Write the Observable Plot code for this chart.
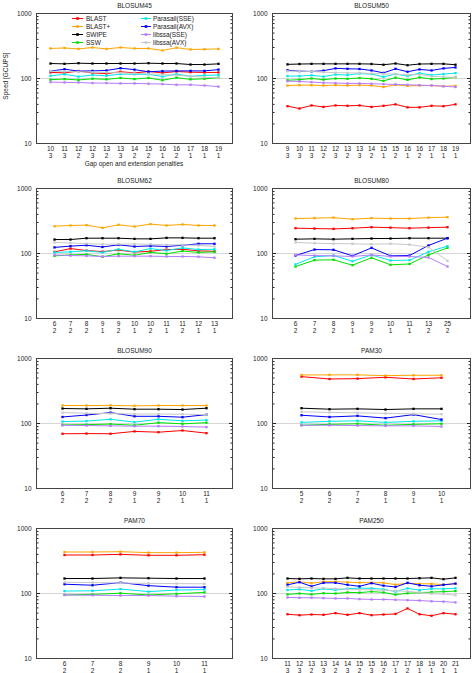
<!DOCTYPE html>
<html><head><meta charset="utf-8">
<script src="https://cdn.jsdelivr.net/npm/d3@7"></script>
<script src="https://cdn.jsdelivr.net/npm/@observablehq/plot@0.6"></script>
<style>
body{margin:0;background:#fff;}
#chart{position:relative;width:472px;height:673px;font-family:"Liberation Sans",Arial,sans-serif;background:#fff;}
#chart svg{position:absolute;overflow:visible;}
</style></head><body><div id="chart"></div>
<script>
const series = ["BLAST","BLAST+","SWIPE","SSW","Parasail(SSE)","Parasail(AVX)","libssa(SSE)","libssa(AVX)"];
const colors = ["#ff0000","#ffa500","#000000","#00e000","#00e8e8","#0000ff","#b57cff","#c8c8c8"];
const titles = ["BLOSUM45","BLOSUM50","BLOSUM62","BLOSUM80","BLOSUM90","PAM30","PAM70","PAM250"];
const yTicks = [10,100,1000];
const yMinor = [20,30,40,50,60,70,80,90,200,300,400,500,600,700,800,900];

// values in series order: BLAST, BLAST+, SWIPE, SSW, Parasail(SSE), Parasail(AVX), libssa(SSE), libssa(AVX)
const blosum45Gaps = ["10\n3","11\n3","12\n2","12\n3","13\n2","13\n3","14\n2","15\n2","16\n1","16\n2","17\n1","18\n1","19\n1"];
const blosum45 = [
  [124,122,130,122,119,127,122,128,122,128,125,124,124],
  [290,295,285,300,285,300,290,290,270,298,280,282,285],
  [170,168,172,170,170,170,170,172,170,170,164,164,168],
  [96,98,95,99,97,102,98,102,94,103,97,99,103],
  [110,116,107,113,110,117,116,116,107,117,108,112,113],
  [130,139,130,131,133,144,137,127,130,131,131,131,137],
  [88,87,87,85,85,84,84,83,82,80,80,78,75],
  [130,128,127,125,124,122,120,118,115,112,108,105,102]
];
const blosum50Gaps = ["9\n3","10\n3","11\n3","12\n2","12\n3","13\n2","13\n3","14\n2","15\n1","15\n2","16\n1","16\n2","17\n1","18\n1","19\n1"];
const blosum50 = [
  [37.5,34.5,38.5,36.5,38.5,38,38.5,36.5,38,40,36,36,38,37.5,40],
  [78,79,79,78,79,78,79,78,74,80,77,78,78,76,77],
  [165,167,168,168,168,168,168,167,163,170,160,167,168,168,163],
  [94,96,100,96,100,99,102,99,92,103,95,104,98,100,104],
  [109,109,112,107,115,113,119,117,106,117,109,121,113,117,121],
  [134,130,128,132,143,141,140,133,122,141,127,138,133,143,148],
  [91,90,88,86,85,84,84,83,82,81,80,79,78,76,74],
  [130,130,128,125,123,122,122,119,118,117,114,115,108,106,104]
];
const blosum62Gaps = ["6\n2","7\n2","8\n2","9\n1","9\n2","10\n1","10\n2","11\n1","11\n2","12\n1","13\n1"];
const blosum62 = [
  [106,119,111,107,113,105,108,115,116,110,108],
  [263,270,273,248,276,260,283,270,280,270,270],
  [164,164,172,172,172,168,168,174,174,172,172],
  [92,95,97,89,99,94,104,99,109,104,106],
  [104,106,110,104,116,106,119,111,122,115,116],
  [124,130,134,126,136,128,131,128,134,141,141],
  [95,93,92,90,91,91,91,90,90,89,86],
  [148,145,142,139,140,140,139,136,136,133,128]
];
const blosum80Gaps = ["6\n2","7\n2","8\n2","9\n1","9\n2","10\n1","11\n1","13\n2","25\n2"];
const blosum80 = [
  [245,242,239,245,254,250,245,250,254],
  [345,350,356,337,350,345,345,356,362],
  [166,168,166,168,170,170,172,172,172],
  [63,79,80,66,86,67,69,95,122],
  [68,89,93,76,95,78,79,106,130],
  [93,115,114,92,122,92,93,133,172],
  [95,93,92,90,95,90,90,87,63],
  [148,144,142,141,139,141,137,125,77]
];
const blosum90Gaps = ["6\n2","7\n2","8\n2","9\n1","9\n2","10\n1","11\n1"];
const blosum90 = [
  [69.5,70,69.5,75.6,73.5,78,71],
  [189,189,190,187,189,189,189],
  [170,168,172,166,166,164,172],
  [95,96,98,94,103,99,103],
  [107,109,116,105,116,110,113],
  [126,135,147,129,129,125,137],
  [94,93,92,91,91,90,88],
  [147,144,142,140,140,139,137]
];
const pam30Gaps = ["5\n2","6\n2","7\n2","8\n1","9\n1","10\n1"];
const pam30 = [
  [526,484,490,514,484,505],
  [558,560,560,545,552,552],
  [172,166,168,164,168,168],
  [94,97,99,94,97,99],
  [104,108,110,104,108,110],
  [134,126,131,121,137,115],
  [94,94,93,92,92,90],
  [151,148,146,143,141,139]
];
const pam70Gaps = ["6\n2","7\n2","8\n2","9\n1","10\n1","11\n1"];
const pam70 = [
  [391,391,400,387,387,395],
  [435,435,440,425,425,430],
  [170,170,174,172,170,170],
  [95,97,101,95,99,104],
  [109,110,117,107,113,115],
  [139,134,147,132,125,125],
  [95,94,93,93,91,90],
  [149,147,145,143,142,141]
];
const pam250Gaps = ["11\n3","12\n3","13\n2","13\n3","14\n2","14\n3","15\n2","15\n3","16\n2","17\n1","17\n2","18\n1","19\n1","20\n1","21\n1"];
const pam250 = [
  [48,46.4,47.5,47,49.9,47,49.9,46.4,47.5,48.5,58.9,48,45.5,49.9,48],
  [146,151,144,152,152,149,147,147,146,137,144,141,141,137,141],
  [170,168,170,168,168,174,170,170,170,170,170,172,174,166,174],
  [97,100,97,101,100,104,103,107,104,96,101,103,105,107,109],
  [113,116,110,118,113,119,121,120,116,107,120,113,118,118,120],
  [136,149,129,146,146,136,129,144,132,126,146,134,129,136,142],
  [87,86,86,85,84,84,82,81,81,80,79,78,76,75,73],
  [127,124,122,121,119,116,115,114,112,110,108,104,99,98,94]
];

const gapsList = [blosum45Gaps,blosum50Gaps,blosum62Gaps,blosum80Gaps,blosum90Gaps,pam30Gaps,pam70Gaps,pam250Gaps];
const valuesList = [blosum45,blosum50,blosum62,blosum80,blosum90,pam30,pam70,pam250];

const chart = document.getElementById("chart");
const frameTops = [13.3, 188.3, 358.3, 528.3];
const MT = 15, FH = 130, MB = 28;
const FONT = "Liberation Sans, Arial, sans-serif";

titles.forEach((title, k) => {
  const col = k % 2, row = Math.floor(k / 2);
  const gaps = gapsList[k], vals = valuesList[k];
  const n = gaps.length;
  const seriesMarks = series.flatMap((s, si) => {
    const d = vals[si].map((v, i) => ({i, v}));
    return [
      Plot.line(d, {x: "i", y: "v", stroke: colors[si], strokeWidth: 1}),
      Plot.dot(d, {x: "i", y: "v", fill: colors[si], r: 1.3, symbol: "square"})
    ];
  });
  const svg = Plot.plot({
    width: 236, height: MT + FH + MB,
    marginLeft: 36, marginRight: col ? 2 : 4, marginTop: MT, marginBottom: MB,
    style: {fontFamily: FONT, fontSize: "6.5px", overflow: "visible", background: "transparent", color: "#222"},
    x: {type: "point", domain: d3.range(n), padding: 1, axis: null},
    y: {type: "log", domain: [10, 1000], axis: null},
    marks: [
      Plot.ruleY([100], {stroke: "#d6d6d6", strokeWidth: 1}),
      Plot.axisY({ticks: yTicks, anchor: "left", tickSize: 0, tickPadding: 5, tickFormat: d => String(d), label: null}),
      Plot.axisY({ticks: yMinor, anchor: "left", tickSize: -2.5, tickFormat: () => "", label: null}),
      Plot.axisY({ticks: yMinor, anchor: "right", tickSize: -2.5, tickFormat: () => "", label: null}),
      Plot.axisY({ticks: yTicks, anchor: "left", tickSize: -4, tickFormat: () => "", label: null}),
      Plot.axisY({ticks: yTicks, anchor: "right", tickSize: -4, tickFormat: () => "", label: null}),
      Plot.axisX({anchor: "bottom", tickSize: 0, tickPadding: 2, tickFormat: i => gaps[i], lineHeight: 1.1, label: null}),
      ...seriesMarks,
      Plot.frame({stroke: "#444", strokeWidth: 1}),
      Plot.text([title], {frameAnchor: "top", dy: -10, fontSize: 6.5})
    ]
  });
  svg.style.left = (col * 236) + "px";
  svg.style.top = (frameTops[row] - MT) + "px";
  chart.appendChild(svg);
});

// overlay: axis labels and legend
const ov = d3.select(chart).append("svg")
  .attr("width", 472).attr("height", 673)
  .style("left", "0px").style("top", "0px")
  .attr("font-family", FONT).attr("font-size", 6.5).attr("fill", "#222");
ov.append("text").attr("transform", "translate(5,76) rotate(-90)")
  .attr("text-anchor", "middle").attr("dominant-baseline", "central").text("Speed [GCUPS]");
ov.append("text").attr("x", 134).attr("y", 163)
  .attr("text-anchor", "middle").attr("dominant-baseline", "central").text("Gap open and extension penalties");

const legRows = [18.5, 26.5, 34.5, 42.5];
series.forEach((s, si) => {
  const c = Math.floor(si / 4), r = si % 4;
  const x0 = c ? 141 : 72, x1 = c ? 151 : 83, tx = c ? 153 : 86;
  const y = legRows[r];
  const g = ov.append("g");
  g.append("line").attr("x1", x0).attr("x2", x1).attr("y1", y).attr("y2", y)
    .attr("stroke", colors[si]).attr("stroke-width", 1);
  g.append("rect").attr("x", (x0 + x1) / 2 - 1.3).attr("y", y - 1.3).attr("width", 2.6).attr("height", 2.6)
    .attr("fill", colors[si]);
  g.append("text").attr("x", tx).attr("y", y).attr("dominant-baseline", "central").text(s);
});
</script>
</body></html>
